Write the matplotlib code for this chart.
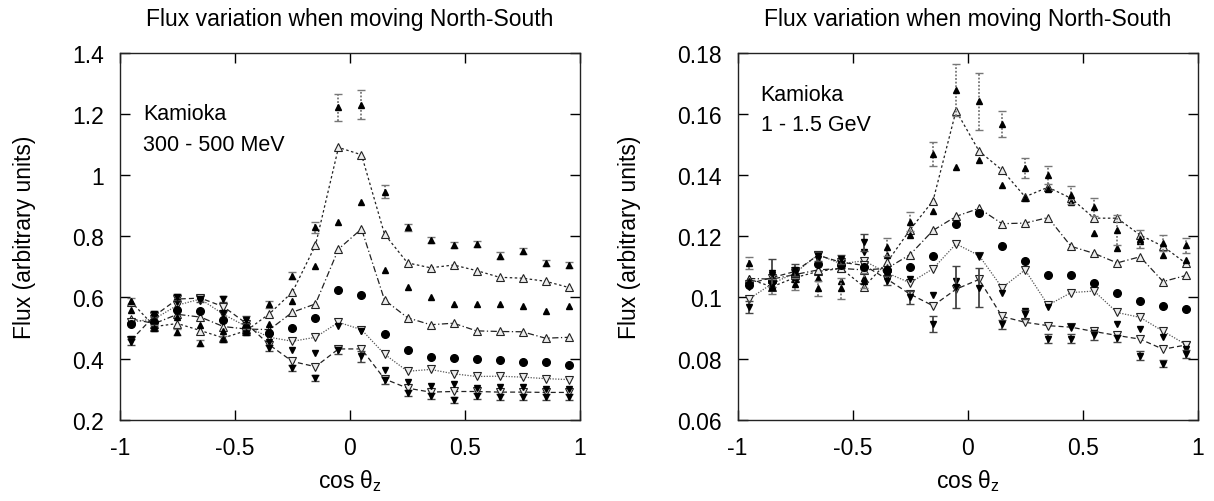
import numpy as np
import matplotlib
matplotlib.use("Agg")
import matplotlib.pyplot as plt

plt.rcParams['font.family'] = ['Liberation Sans', 'DejaVu Sans']
plt.rcParams['mathtext.fontset'] = 'custom'
plt.rcParams['mathtext.rm'] = 'Liberation Sans'

cos_z = [-0.95, -0.85, -0.75, -0.65, -0.55, -0.45, -0.35, -0.25, -0.15, -0.05,
         0.05, 0.15, 0.25, 0.35, 0.45, 0.55, 0.65, 0.75, 0.85, 0.95]

# 300 - 500 MeV
lo_up_err = [0.588, 0.500, 0.487, 0.450, 0.465, 0.488, 0.578, 0.671, 0.829, 1.221,
             1.229, 0.946, 0.829, 0.789, 0.771, 0.774, 0.737, 0.753, 0.712, 0.706]
lo_up_err_e = [0.010, 0.010, 0.010, 0.010, 0.010, 0.010, 0.012, 0.012, 0.018, 0.044,
               0.047, 0.020, 0.012, 0.010, 0.010, 0.010, 0.010, 0.010, 0.010, 0.010]
lo_up_dot = [0.585, 0.505, 0.515, 0.492, 0.468, 0.492, 0.547, 0.618, 0.771, 1.090,
             1.066, 0.807, 0.713, 0.697, 0.706, 0.688, 0.666, 0.663, 0.653, 0.633]
lo_up_small = [0.560, 0.510, 0.535, 0.509, 0.490, 0.495, 0.515, 0.587, 0.704, 0.845,
               0.911, 0.691, 0.635, 0.600, 0.578, 0.578, 0.580, 0.572, 0.557, 0.573]
lo_up_dashdot = [0.530, 0.515, 0.545, 0.536, 0.505, 0.497, 0.495, 0.552, 0.579, 0.758,
                 0.824, 0.592, 0.534, 0.511, 0.516, 0.491, 0.489, 0.488, 0.467, 0.470]
lo_circle = [0.515, 0.520, 0.560, 0.557, 0.525, 0.500, 0.485, 0.499, 0.532, 0.626,
             0.608, 0.482, 0.430, 0.405, 0.402, 0.399, 0.395, 0.389, 0.389, 0.381]
lo_dn_dot = [0.520, 0.530, 0.575, 0.595, 0.545, 0.505, 0.470, 0.457, 0.470, 0.519,
             0.495, 0.415, 0.359, 0.365, 0.351, 0.342, 0.343, 0.340, 0.335, 0.332]
lo_dn_small = [0.465, 0.535, 0.585, 0.590, 0.550, 0.510, 0.455, 0.427, 0.418, 0.508,
               0.490, 0.364, 0.325, 0.310, 0.316, 0.306, 0.307, 0.307, 0.300, 0.300]
lo_dn_dash = [0.462, 0.540, 0.595, 0.598, 0.570, 0.515, 0.445, 0.391, 0.374, 0.432,
              0.432, 0.334, 0.304, 0.291, 0.293, 0.293, 0.291, 0.291, 0.290, 0.290]
lo_dn_err = [0.455, 0.547, 0.603, 0.595, 0.595, 0.528, 0.435, 0.371, 0.336, 0.427,
             0.408, 0.329, 0.288, 0.277, 0.265, 0.277, 0.274, 0.274, 0.275, 0.275]
lo_dn_err_e = [0.010, 0.010, 0.010, 0.010, 0.010, 0.010, 0.010, 0.010, 0.010, 0.012,
               0.018, 0.010, 0.010, 0.010, 0.010, 0.010, 0.010, 0.010, 0.010, 0.010]

# 1 - 1.5 GeV
hi_up_err = [0.1112, 0.1035, 0.1045, 0.1030, 0.1030, 0.1055, 0.1165, 0.1248, 0.1468, 0.1678,
             0.1641, 0.1567, 0.1424, 0.1400, 0.1335, 0.1295, 0.1221, 0.1192, 0.1178, 0.1170]
hi_up_err_e = [0.0020, 0.0025, 0.0020, 0.0025, 0.0035, 0.0025, 0.0030, 0.0030, 0.0040, 0.0085,
               0.0093, 0.0043, 0.0033, 0.0030, 0.0030, 0.0030, 0.0050, 0.0030, 0.0025, 0.0025]
hi_up_dot = [0.1060, 0.1035, 0.1065, 0.1085, 0.1095, 0.1035, 0.1115, 0.1221, 0.1316, 0.1610,
             0.1478, 0.1416, 0.1329, 0.1360, 0.1324, 0.1259, 0.1259, 0.1204, 0.1167, 0.1111]
hi_up_small = [0.1055, 0.1040, 0.1060, 0.1065, 0.1055, 0.1065, 0.1140, 0.1203, 0.1281, 0.1427,
               0.1450, 0.1367, 0.1325, 0.1355, 0.1311, 0.1211, 0.1162, 0.1186, 0.1138, 0.1124]
hi_up_dashdot = [0.1062, 0.1060, 0.1075, 0.1090, 0.1095, 0.1090, 0.1095, 0.1140, 0.1219, 0.1265,
                 0.1291, 0.1241, 0.1243, 0.1261, 0.1167, 0.1144, 0.1113, 0.1133, 0.1052, 0.1072]
hi_circle = [0.1040, 0.1055, 0.1070, 0.1110, 0.1105, 0.1100, 0.1090, 0.1100, 0.1135, 0.1241,
             0.1275, 0.1169, 0.1119, 0.1075, 0.1075, 0.1046, 0.1014, 0.0988, 0.0973, 0.0964]
hi_dn_dot = [0.0995, 0.1045, 0.1080, 0.1140, 0.1110, 0.1120, 0.1080, 0.1048, 0.1094, 0.1175,
             0.1137, 0.1032, 0.1090, 0.0975, 0.1016, 0.1021, 0.0951, 0.0935, 0.0890, 0.0846]
hi_dn_small = [0.1035, 0.1075, 0.1080, 0.1125, 0.1110, 0.1150, 0.1070, 0.1059, 0.1007, 0.1055,
               0.1135, 0.1016, 0.0955, 0.0970, 0.0905, 0.0885, 0.0913, 0.0897, 0.0870, 0.0833]
hi_dn_dash = [0.1045, 0.1065, 0.1085, 0.1138, 0.1115, 0.1105, 0.1060, 0.1011, 0.0973, 0.1027,
              0.1059, 0.0938, 0.0919, 0.0908, 0.0903, 0.0889, 0.0876, 0.0864, 0.0831, 0.0845]
hi_dn_err = [0.0968, 0.1080, 0.1090, 0.1135, 0.1125, 0.1180, 0.1055, 0.1000, 0.0913, 0.1035,
             0.1032, 0.0913, 0.0945, 0.0865, 0.0865, 0.0876, 0.0867, 0.0810, 0.0784, 0.0815]
hi_dn_err_e = [0.0020, 0.0045, 0.0020, 0.0015, 0.0015, 0.0028, 0.0015, 0.0020, 0.0025, 0.0068,
               0.0063, 0.0015, 0.0015, 0.0015, 0.0015, 0.0015, 0.0012, 0.0015, 0.0012, 0.0013]

title = 'Flux variation when moving North-South'
FS = 16.5


def draw_panel(ax, up_err, up_err_e, up_dot, up_small, up_dashdot, circ,
               dn_dot, dn_small, dn_dash, dn_err, dn_err_e):
    x = np.array(cos_z)
    open_kw = dict(marker='^', ms=6, mfc='#ececec', mec='#222222', mew=0.8)
    open_dn = dict(open_kw, marker='v')

    # model curves with open markers
    ax.plot(x, up_dot, color='#222222', lw=0.9, ls=(0, (2, 2)), **open_kw)
    ax.plot(x, up_dashdot, color='#222222', lw=0.9, ls=(0, (5, 2, 1, 2)), **open_kw)
    ax.plot(x, dn_dot, color='#555555', lw=0.9, ls=(0, (1, 1.2)), **open_dn)
    ax.plot(x, dn_dash, color='#222222', lw=0.9, ls=(0, (4, 2.5)), **open_dn)

    # points only
    ax.plot(x, up_small, ls='none', marker='^', ms=4.8, color='black')
    ax.plot(x, circ, ls='none', marker='o', ms=5.5, color='black')
    ax.plot(x, dn_small, ls='none', marker='v', ms=4.8, color='black')

    # points with error bars (dotted bars on the upper set)
    eb = ax.errorbar(x, up_err, yerr=up_err_e, fmt='^', ms=5, color='black',
                     ecolor='#777777', elinewidth=1.3, capsize=3, capthick=1.0)
    eb[2][0].set_linestyle((0, (1, 1)))
    ax.errorbar(x, dn_err, yerr=dn_err_e, fmt='v', ms=5, color='black',
                ecolor='#444444', elinewidth=1.3, capsize=3, capthick=1.0)

    ax.set_xlim(-1, 1)
    ax.set_xticks([-1, -0.5, 0, 0.5, 1])
    ax.set_xticklabels(['-1', '-0.5', '0', '0.5', '1'])
    ax.tick_params(direction='in', length=7, width=1, labelsize=FS, pad=11.5,
                   top=True, right=True)
    for s in ax.spines.values():
        s.set_linewidth(1.0)
        s.set_color('#222222')
    ax.set_title(title, fontsize=FS, pad=20)
    ax.set_ylabel('Flux (arbitrary units)', fontsize=FS, labelpad=26)
    ax.set_xlabel('cos θ$_\\mathregular{z}$', fontsize=FS, labelpad=6)


fig = plt.figure(figsize=(12.14, 5.02), dpi=100)
ax1 = fig.add_axes([0.0988, 0.1614, 0.379, 0.732])
ax2 = fig.add_axes([0.6075, 0.1614, 0.379, 0.732])

draw_panel(ax1, lo_up_err, lo_up_err_e, lo_up_dot, lo_up_small, lo_up_dashdot,
           lo_circle, lo_dn_dot, lo_dn_small, lo_dn_dash, lo_dn_err, lo_dn_err_e)
ax1.set_ylim(0.2, 1.4)
ax1.set_yticks([0.2, 0.4, 0.6, 0.8, 1.0, 1.2, 1.4])
ax1.set_yticklabels(['0.2', '0.4', '0.6', '0.8', '1', '1.2', '1.4'])
ax1.text(0.05, 0.833, 'Kamioka', transform=ax1.transAxes, fontsize=15.5, va='center')
ax1.text(0.05, 0.751, '300 - 500 MeV', transform=ax1.transAxes, fontsize=15.5, va='center')

draw_panel(ax2, hi_up_err, hi_up_err_e, hi_up_dot, hi_up_small, hi_up_dashdot,
           hi_circle, hi_dn_dot, hi_dn_small, hi_dn_dash, hi_dn_err, hi_dn_err_e)
ax2.set_ylim(0.06, 0.18)
ax2.set_yticks([0.06, 0.08, 0.1, 0.12, 0.14, 0.16, 0.18])
ax2.set_yticklabels(['0.06', '0.08', '0.1', '0.12', '0.14', '0.16', '0.18'])
ax2.text(0.05, 0.885, 'Kamioka', transform=ax2.transAxes, fontsize=15.5, va='center')
ax2.text(0.05, 0.805, '1 - 1.5 GeV', transform=ax2.transAxes, fontsize=15.5, va='center')

fig.savefig('out.png', dpi=100)
